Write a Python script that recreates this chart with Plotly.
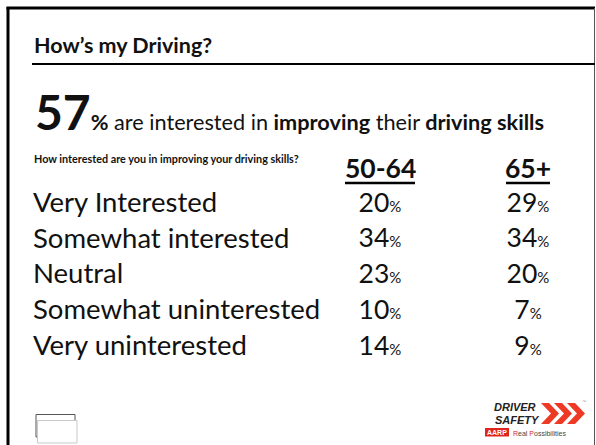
import plotly.graph_objects as go

# Survey answers and the share of each age group giving them
categories = ["Very Interested", "Somewhat interested", "Neutral",
              "Somewhat uninterested", "Very uninterested"]
age_groups = ["50-64", "65+"]
pct_50_64 = [20, 34, 23, 10, 14]
pct_65_plus = [29, 34, 20, 7, 9]
headline_pct = 57

W, H = 596, 445
FONT = "Lato"

# Layout positions (pixel space of the slide)
label_x = 33
col_x = [380, 528]
row_y = [205 + 35.8 * i for i in range(len(categories))]


def pct_text(v):
    return f"{v}<span style='font-size:15px'>%</span>"


fig = go.Figure()

# Row labels
fig.add_trace(go.Scatter(
    x=[label_x] * len(categories), y=row_y, text=categories,
    mode="text", textposition="middle right",
    textfont=dict(family=FONT, size=27.5, color="#111"),
    hoverinfo="skip", showlegend=False,
))

# Percentage columns
for cx, vals in zip(col_x, [pct_50_64, pct_65_plus]):
    fig.add_trace(go.Scatter(
        x=[cx] * len(vals), y=row_y, text=[pct_text(v) for v in vals],
        mode="text", textposition="middle center",
        textfont=dict(family=FONT, size=26.5, color="#111"),
        hoverinfo="skip", showlegend=False,
    ))

annotations = []

# Title
annotations.append(dict(
    x=label_x - 1, y=45, xanchor="left", yanchor="middle",
    text="<b>How’s my Driving?</b>", showarrow=False,
    font=dict(family=FONT, size=21.5, color="#111"),
))

# Headline
annotations.append(dict(
    x=33, y=111.5, xanchor="left", yanchor="middle",
    text=(f"<span style='font-size:48px'><b>{headline_pct}</b></span>"
          "<b>%</b> are interested in <b>improving</b> their <b>driving skills</b>"),
    showarrow=False,
    font=dict(family=FONT, size=21.7, color="#111"),
))

# Question
annotations.append(dict(
    x=label_x - 1, y=158, xanchor="left", yanchor="middle",
    text="<b>How interested are you in improving your driving skills?</b>",
    showarrow=False,
    font=dict(family=FONT, size=10.8, color="#111"),
))

# Column headers
for cx, g in zip(col_x, age_groups):
    annotations.append(dict(
        x=cx, y=168, xanchor="center", yanchor="middle",
        text=f"<b>{g}</b>", showarrow=False,
        font=dict(family=FONT, size=26.5, color="#111"),
    ))

# Logo text
annotations += [
    dict(x=515, y=406.5, xanchor="center", yanchor="middle",
         text="<b><i>DRIVER</i></b>", showarrow=False,
         font=dict(family="Liberation Sans", size=11, color="#222")),
    dict(x=517, y=419.5, xanchor="center", yanchor="middle",
         text="<b><i>SAFETY</i></b>", showarrow=False,
         font=dict(family="Liberation Sans", size=11, color="#222")),
    dict(x=497, y=432, xanchor="center", yanchor="middle",
         text="<b>AARP</b>", showarrow=False,
         font=dict(family="Liberation Sans", size=7, color="white")),
    dict(x=511, y=433, xanchor="left", yanchor="middle",
         text="<span style='color:#e0241b'>R</span>eal "
              "<span style='color:#e0241b'>P</span>ossibilities",
         showarrow=False,
         font=dict(family="Liberation Sans", size=7, color="#444")),
    dict(x=584, y=401, xanchor="center", yanchor="middle",
         text="™", showarrow=False,
         font=dict(family="Liberation Sans", size=4, color="#888")),
]

shapes = []
# Slide frame
shapes.append(dict(type="line", x0=6.5, x1=595, y0=8, y1=8,
                   line=dict(color="#000", width=3)))
shapes.append(dict(type="line", x0=8, x1=8, y0=7, y1=446,
                   line=dict(color="#000", width=3)))
shapes.append(dict(type="line", x0=594.5, x1=594.5, y0=8, y1=446,
                   line=dict(color="#555", width=1)))
# Rule under the title
shapes.append(dict(type="line", x0=32, x1=595, y0=64, y1=64,
                   line=dict(color="#000", width=2)))
# Header underlines
for cx, half in zip(col_x, [35, 22]):
    shapes.append(dict(type="line", x0=cx - half, x1=cx + half, y0=183, y1=183,
                       line=dict(color="#000", width=2.5)))
# Placeholder boxes at bottom left
shapes.append(dict(type="rect", x0=36, x1=75, y0=414.5, y1=437,
                   line=dict(color="#555", width=1), fillcolor="rgba(0,0,0,0)"))
shapes.append(dict(type="rect", x0=37.5, x1=77, y0=420.5, y1=443,
                   line=dict(color="#c8c8c8", width=1), fillcolor="white"))
# Logo chevrons
for i in range(3):
    x0 = 541 + i * 13
    path = (f"M {x0},403 L {x0 + 8},403 L {x0 + 18},413.5 L {x0 + 8},424 "
            f"L {x0},424 L {x0 + 10},413.5 Z")
    shapes.append(dict(type="path", path=path, fillcolor="#ee3a24",
                       line=dict(width=0)))
# AARP badge
shapes.append(dict(type="rect", x0=485, x1=509, y0=428, y1=436.5,
                   fillcolor="#e0241b", line=dict(width=0)))

fig.update_layout(
    width=W, height=H,
    margin=dict(l=0, r=0, t=0, b=0),
    paper_bgcolor="white", plot_bgcolor="white",
    xaxis=dict(range=[0, W], visible=False, fixedrange=True),
    yaxis=dict(range=[H, 0], visible=False, fixedrange=True),
    annotations=annotations, shapes=shapes,
)

fig.write_html("out.html")
